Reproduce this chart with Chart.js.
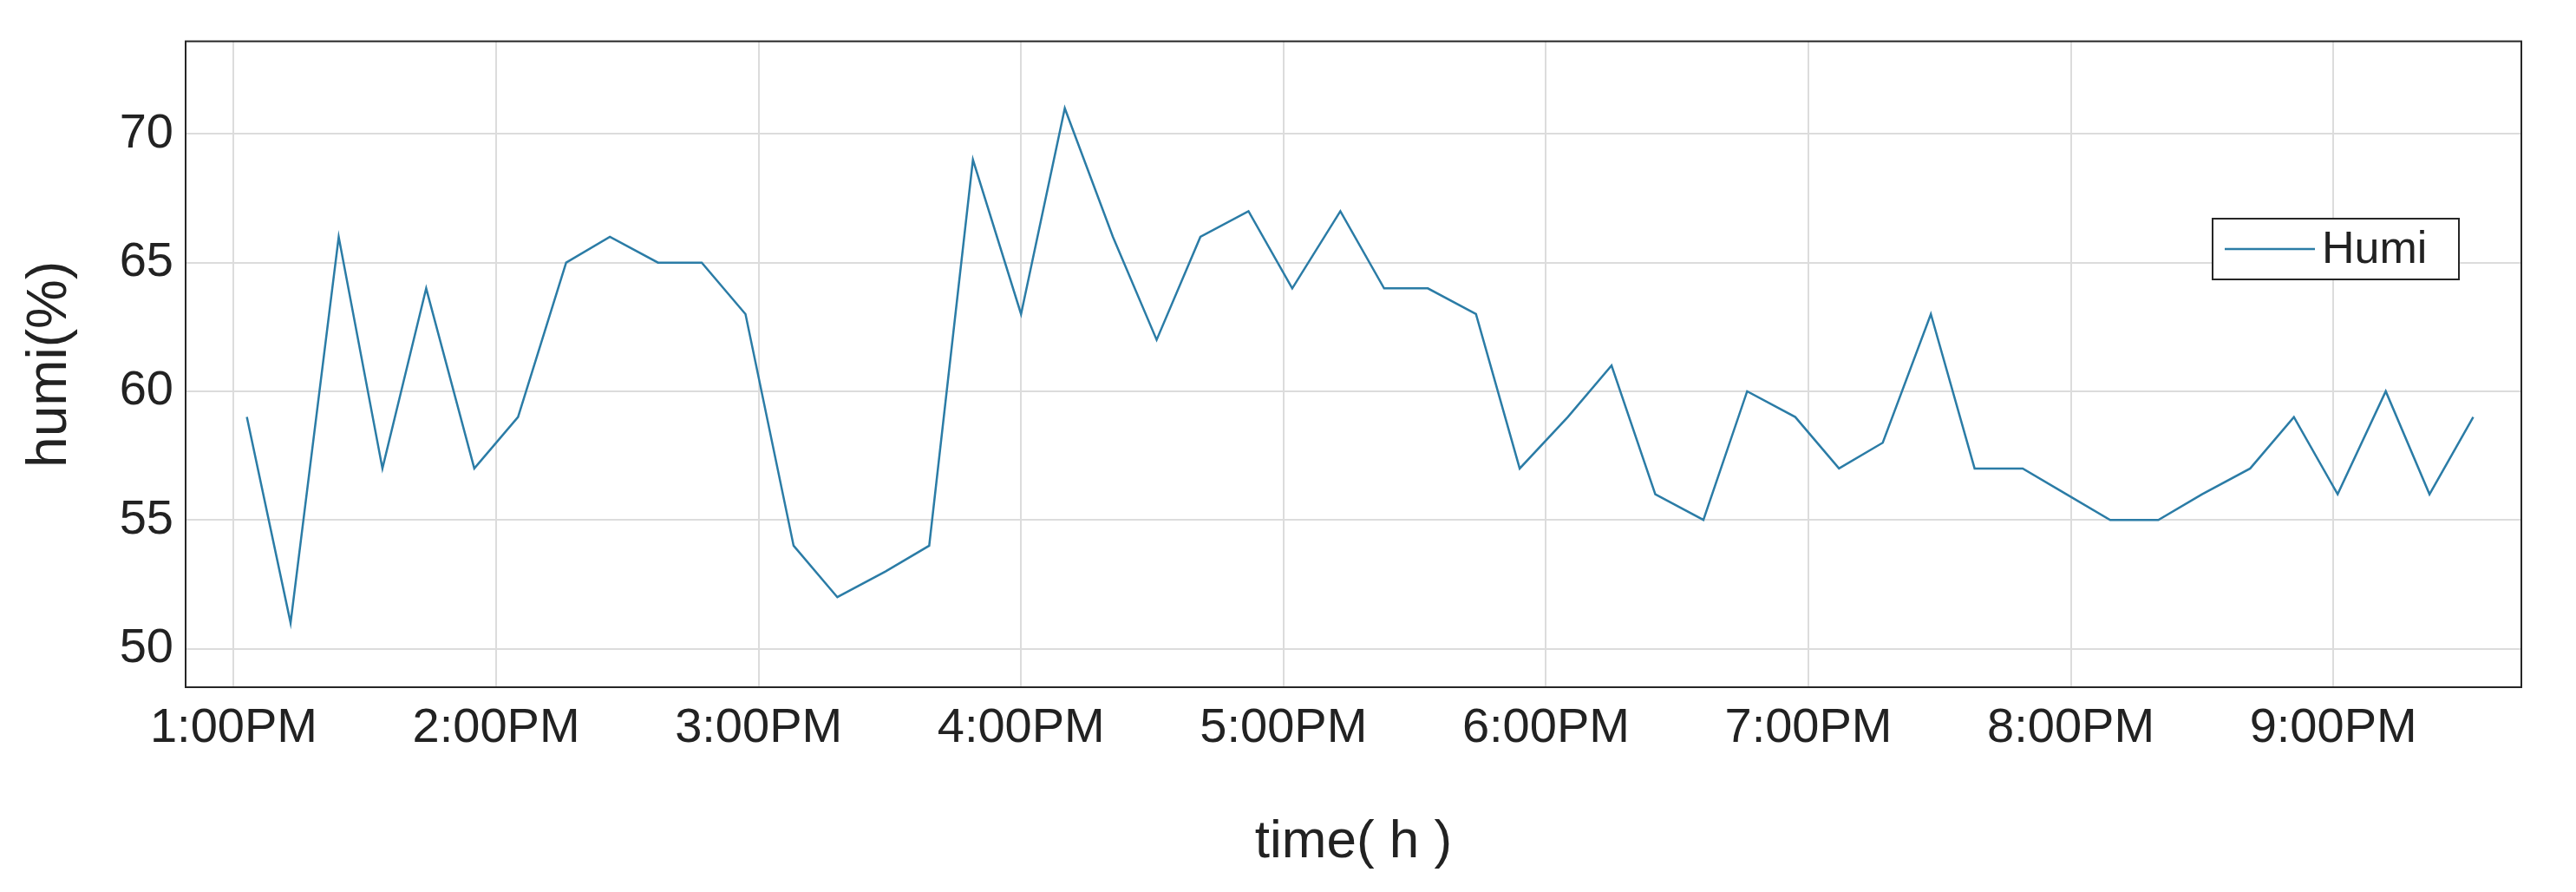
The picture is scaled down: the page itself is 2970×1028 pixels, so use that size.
<!DOCTYPE html>
<html>
<head>
<meta charset="utf-8">
<script src="https://cdn.jsdelivr.net/npm/chart.js@4"></script>
<style>
  body { margin: 0; background: #fff; }
  #wrap { width: 2970px; height: 1028px; }
</style>
</head>
<body>
<div id="wrap"><canvas id="graph" width="2970" height="1028"></canvas></div>
<script>
// minutes after 1:00 PM
const minutes = [3, 13, 24, 34, 44, 55, 65, 76, 86, 97, 107, 117, 128, 138, 149, 159, 169, 180, 190, 201,
    211, 221, 232, 242, 253, 263, 273, 284, 294, 305, 315, 325, 336, 346, 357, 367, 377, 388, 398, 409,
    419, 429, 440, 450, 461, 471, 481, 492, 502, 512]
const humi = [59, 51, 66, 57, 64, 57, 59, 65, 66, 65, 65, 63, 54, 52, 53, 54, 69, 63, 71, 66,
    62, 66, 67, 64, 67, 64, 64, 63, 57, 59, 61, 56, 55, 60, 59, 57, 58, 63, 57, 57,
    56, 55, 55, 56, 57, 59, 56, 60, 56, 59]
const timeTicks = ["1:00PM", "2:00PM", "3:00PM", "4:00PM", "5:00PM", "6:00PM", "7:00PM", "8:00PM", "9:00PM"]
const humiTicks = [50, 55, 60, 65, 70]

const lineColor = "#2b7ca6"
const font = "'Liberation Sans', Arial, sans-serif"

const framePlugin = {
    id: "frame",
    afterDraw(chart) {
        const { ctx, chartArea: a } = chart
        ctx.save()
        ctx.strokeStyle = "#262626"
        ctx.lineWidth = 2
        ctx.strokeRect(a.left, a.top, a.right - a.left, a.bottom - a.top)
        // legend box
        const lx = 2551, ly = 252, lw = 284, lh = 70
        ctx.fillStyle = "#fff"
        ctx.fillRect(lx, ly, lw, lh)
        ctx.strokeRect(lx, ly, lw, lh)
        ctx.strokeStyle = lineColor
        ctx.lineWidth = 2.5
        ctx.beginPath()
        ctx.moveTo(lx + 14, ly + lh / 2)
        ctx.lineTo(lx + 118, ly + lh / 2)
        ctx.stroke()
        ctx.fillStyle = "#222"
        ctx.font = "52px " + font
        ctx.textBaseline = "middle"
        ctx.fillText("Humi", lx + 126, ly + lh / 2 + 2)
        ctx.restore()
    },
}

const points = minutes.map((m, i) => ({ x: m, y: humi[i] }))

new Chart(document.getElementById("graph").getContext("2d"), {
    type: "line",
    data: {
        datasets: [
            {
                label: "Humi",
                data: points,
                borderColor: lineColor,
                borderWidth: 2.5,
                pointRadius: 0,
                tension: 0,
            },
        ],
    },
    options: {
        responsive: false,
        animation: false,
        layout: { padding: { top: 47, right: 63, left: 0, bottom: 20 } },
        plugins: { legend: { display: false }, tooltip: { enabled: false } },
        scales: {
            x: {
                type: "linear",
                min: -11,
                max: 523,
                afterBuildTicks: (s) => {
                    s.ticks = timeTicks.map((t, i) => ({ value: i * 60 }))
                },
                afterFit: (s) => { s.height = 216 },
                ticks: {
                    callback: (v) => timeTicks[v / 60],
                    color: "#222",
                    font: { family: font, size: 56 },
                    maxRotation: 0,
                    padding: 14,
                },
                grid: { color: "#dcdcdc", lineWidth: 2, tickLength: 0 },
                border: { display: false },
                title: {
                    display: true,
                    text: "time( h )",
                    color: "#222",
                    font: { family: font, size: 62 },
                    padding: 0,
                },
            },
            y: {
                min: 48.5,
                max: 73.6,
                afterBuildTicks: (s) => {
                    s.ticks = humiTicks.map((v) => ({ value: v }))
                },
                afterFit: (s) => { s.width = 214 },
                ticks: {
                    color: "#222",
                    font: { family: font, size: 56 },
                    padding: 14,
                },
                grid: { color: "#dcdcdc", lineWidth: 2, tickLength: 0 },
                border: { display: false },
                title: {
                    display: true,
                    text: "humi(%)",
                    color: "#222",
                    font: { family: font, size: 64 },
                    padding: { top: 20, bottom: 0 },
                },
            },
        },
    },
    plugins: [framePlugin],
})
</script>
</body>
</html>
